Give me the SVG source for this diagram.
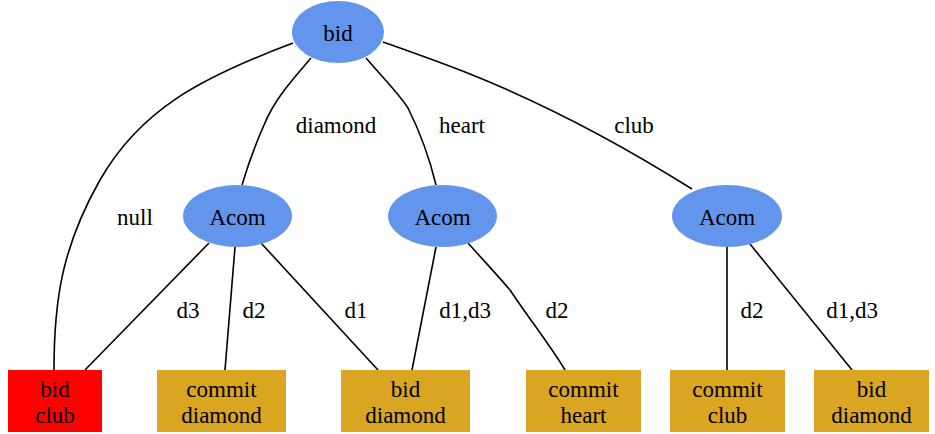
<svg xmlns="http://www.w3.org/2000/svg" width="935" height="434" viewBox="0 0 935 434" font-family="'Liberation Serif', 'Times New Roman', 'DejaVu Serif', serif">
  <style>
    text { font-family: 'Liberation Serif', 'Times New Roman', 'DejaVu Serif', serif; font-size: 23px; fill: #000; text-anchor: middle; }
    .choice { fill: #6495ED; }
    .leaf { fill: #DAA520; }
    .bad { fill: #FF0000; }
    .edge { fill: none; stroke: #000; stroke-width: 1.6; }
  </style>
  <rect width="935" height="434" fill="#fff"/>

  <!-- connectors -->
  <g id="edges">
    <path class="edge" d="M293,43 C200,78 140,110 100,180 C62,247 54,300 54,370"/>
    <path class="edge" d="M311,58 C292,80 274,100 264,125 C253,150 247,168 242,185"/>
    <path class="edge" d="M366,58 C385,80 400,95 408,108 C420,132 430,160 436,185"/>
    <path class="edge" d="M383,42 C420,55 445,64 470,74 C550,106 630,150 692,189"/>
    <path class="edge" d="M209,243 L85,370"/>
    <path class="edge" d="M235,247 L225,370"/>
    <path class="edge" d="M261,243 L378,370"/>
    <path class="edge" d="M436,247 L412,370"/>
    <path class="edge" d="M468,243 C485,262 500,278 510,290 C530,320 550,345 565,370"/>
    <path class="edge" d="M727,247 L727,370"/>
    <path class="edge" d="M750,244 L852,370"/>
  </g>

  <!-- connector labels -->
  <g id="edge-labels">
    <text x="135" y="225">null</text>
    <text x="336" y="133">diamond</text>
    <text x="462" y="133">heart</text>
    <text x="634" y="133">club</text>
    <text x="188" y="318">d3</text>
    <text x="254" y="318">d2</text>
    <text x="356" y="318">d1</text>
    <text x="465" y="318">d1,d3</text>
    <text x="557" y="318">d2</text>
    <text x="752" y="318">d2</text>
    <text x="852" y="318">d1,d3</text>
  </g>

  <!-- nodes -->
  <g id="root">
    <ellipse class="choice" cx="338" cy="32" rx="46" ry="31"/>
    <text x="338" y="41">bid</text>
  </g>
  <g id="acom-diamond">
    <ellipse class="choice" cx="237.5" cy="216" rx="54.5" ry="31"/>
    <text x="237.5" y="225">Acom</text>
  </g>
  <g id="acom-heart">
    <ellipse class="choice" cx="442.5" cy="216" rx="54.5" ry="31"/>
    <text x="442.5" y="225">Acom</text>
  </g>
  <g id="acom-club">
    <ellipse class="choice" cx="727" cy="216" rx="55" ry="31"/>
    <text x="727" y="225">Acom</text>
  </g>

  <g id="bid-club">
    <rect class="bad" x="8" y="370" width="94" height="62"/>
    <text x="55" y="397">bid</text>
    <text x="55" y="423">club</text>
  </g>
  <g id="commit-diamond">
    <rect class="leaf" x="157" y="370" width="129" height="62"/>
    <text x="221.5" y="397">commit</text>
    <text x="221.5" y="423">diamond</text>
  </g>
  <g id="bid-diamond-1">
    <rect class="leaf" x="341" y="370" width="129" height="62"/>
    <text x="405.5" y="397">bid</text>
    <text x="405.5" y="423">diamond</text>
  </g>
  <g id="commit-heart">
    <rect class="leaf" x="526" y="370" width="115" height="62"/>
    <text x="583.5" y="397">commit</text>
    <text x="583.5" y="423">heart</text>
  </g>
  <g id="commit-club">
    <rect class="leaf" x="670" y="370" width="115" height="62"/>
    <text x="727.5" y="397">commit</text>
    <text x="727.5" y="423">club</text>
  </g>
  <g id="bid-diamond-2">
    <rect class="leaf" x="814" y="370" width="115" height="62"/>
    <text x="871.5" y="397">bid</text>
    <text x="871.5" y="423">diamond</text>
  </g>
</svg>
